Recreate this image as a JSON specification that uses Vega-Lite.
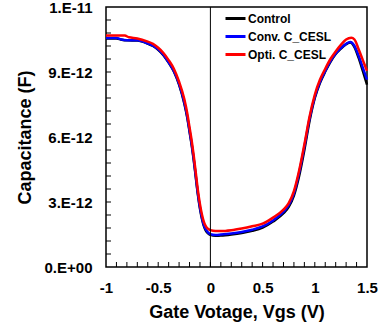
{
  "$schema": "https://vega.github.io/schema/vega-lite/v6.json",
  "autosize": "none",
  "width": 261,
  "height": 260,
  "padding": {"left": 106, "top": 7, "right": 19, "bottom": 69},
  "background": "white",
  "config": {
    "view": {"stroke": "black", "strokeWidth": 1.5},
    "font": "Liberation Sans",
    "axis": {
      "domain": false,
      "grid": false,
      "ticks": false,
      "labelFont": "Liberation Sans",
      "labelFontWeight": "bold",
      "labelFontSize": 15,
      "labelColor": "black",
      "titleFont": "Liberation Sans",
      "titleFontWeight": "bold",
      "titleFontSize": 18,
      "titleColor": "black"
    }
  },
  "datasets": {
    "curves": [
      {"series": "Control", "v": -1.0, "c": 10.55},
      {"series": "Control", "v": -0.9, "c": 10.55},
      {"series": "Control", "v": -0.85, "c": 10.49},
      {"series": "Control", "v": -0.8, "c": 10.46},
      {"series": "Control", "v": -0.7, "c": 10.45},
      {"series": "Control", "v": -0.6, "c": 10.31},
      {"series": "Control", "v": -0.55, "c": 10.2},
      {"series": "Control", "v": -0.5, "c": 10.03},
      {"series": "Control", "v": -0.45, "c": 9.78},
      {"series": "Control", "v": -0.4, "c": 9.43},
      {"series": "Control", "v": -0.35, "c": 9.02},
      {"series": "Control", "v": -0.3, "c": 8.42},
      {"series": "Control", "v": -0.25, "c": 7.55},
      {"series": "Control", "v": -0.22, "c": 6.85},
      {"series": "Control", "v": -0.2, "c": 6.25},
      {"series": "Control", "v": -0.18, "c": 5.65},
      {"series": "Control", "v": -0.16, "c": 4.95},
      {"series": "Control", "v": -0.14, "c": 4.15},
      {"series": "Control", "v": -0.12, "c": 3.35},
      {"series": "Control", "v": -0.1, "c": 2.7},
      {"series": "Control", "v": -0.08, "c": 2.2},
      {"series": "Control", "v": -0.06, "c": 1.85},
      {"series": "Control", "v": -0.04, "c": 1.65},
      {"series": "Control", "v": -0.02, "c": 1.54},
      {"series": "Control", "v": 0.0, "c": 1.48},
      {"series": "Control", "v": 0.05, "c": 1.44},
      {"series": "Control", "v": 0.1, "c": 1.45},
      {"series": "Control", "v": 0.2, "c": 1.5},
      {"series": "Control", "v": 0.3, "c": 1.57},
      {"series": "Control", "v": 0.4, "c": 1.67},
      {"series": "Control", "v": 0.5, "c": 1.82},
      {"series": "Control", "v": 0.6, "c": 2.1},
      {"series": "Control", "v": 0.7, "c": 2.48},
      {"series": "Control", "v": 0.75, "c": 2.78},
      {"series": "Control", "v": 0.8, "c": 3.3},
      {"series": "Control", "v": 0.85, "c": 4.2},
      {"series": "Control", "v": 0.9, "c": 5.4},
      {"series": "Control", "v": 0.95, "c": 6.75},
      {"series": "Control", "v": 1.0, "c": 7.8},
      {"series": "Control", "v": 1.05, "c": 8.5},
      {"series": "Control", "v": 1.1, "c": 9.02},
      {"series": "Control", "v": 1.15, "c": 9.47},
      {"series": "Control", "v": 1.2, "c": 9.83},
      {"series": "Control", "v": 1.25, "c": 10.08},
      {"series": "Control", "v": 1.3, "c": 10.28},
      {"series": "Control", "v": 1.34, "c": 10.36},
      {"series": "Control", "v": 1.38, "c": 10.15},
      {"series": "Control", "v": 1.42, "c": 9.65},
      {"series": "Control", "v": 1.46, "c": 9.05},
      {"series": "Control", "v": 1.5, "c": 8.42},
      {"series": "Conv. C_CESL", "v": -1.0, "c": 10.57},
      {"series": "Conv. C_CESL", "v": -0.9, "c": 10.57},
      {"series": "Conv. C_CESL", "v": -0.85, "c": 10.5},
      {"series": "Conv. C_CESL", "v": -0.8, "c": 10.47},
      {"series": "Conv. C_CESL", "v": -0.7, "c": 10.46},
      {"series": "Conv. C_CESL", "v": -0.6, "c": 10.32},
      {"series": "Conv. C_CESL", "v": -0.55, "c": 10.22},
      {"series": "Conv. C_CESL", "v": -0.5, "c": 10.05},
      {"series": "Conv. C_CESL", "v": -0.45, "c": 9.8},
      {"series": "Conv. C_CESL", "v": -0.4, "c": 9.45},
      {"series": "Conv. C_CESL", "v": -0.35, "c": 9.05},
      {"series": "Conv. C_CESL", "v": -0.3, "c": 8.45},
      {"series": "Conv. C_CESL", "v": -0.25, "c": 7.6},
      {"series": "Conv. C_CESL", "v": -0.22, "c": 6.9},
      {"series": "Conv. C_CESL", "v": -0.2, "c": 6.3},
      {"series": "Conv. C_CESL", "v": -0.18, "c": 5.7},
      {"series": "Conv. C_CESL", "v": -0.16, "c": 5.0},
      {"series": "Conv. C_CESL", "v": -0.14, "c": 4.2},
      {"series": "Conv. C_CESL", "v": -0.12, "c": 3.4},
      {"series": "Conv. C_CESL", "v": -0.1, "c": 2.75},
      {"series": "Conv. C_CESL", "v": -0.08, "c": 2.25},
      {"series": "Conv. C_CESL", "v": -0.06, "c": 1.9},
      {"series": "Conv. C_CESL", "v": -0.04, "c": 1.7},
      {"series": "Conv. C_CESL", "v": -0.02, "c": 1.58},
      {"series": "Conv. C_CESL", "v": 0.0, "c": 1.52},
      {"series": "Conv. C_CESL", "v": 0.05, "c": 1.48},
      {"series": "Conv. C_CESL", "v": 0.1, "c": 1.5},
      {"series": "Conv. C_CESL", "v": 0.2, "c": 1.55},
      {"series": "Conv. C_CESL", "v": 0.3, "c": 1.62},
      {"series": "Conv. C_CESL", "v": 0.4, "c": 1.72},
      {"series": "Conv. C_CESL", "v": 0.5, "c": 1.87},
      {"series": "Conv. C_CESL", "v": 0.6, "c": 2.15},
      {"series": "Conv. C_CESL", "v": 0.7, "c": 2.55},
      {"series": "Conv. C_CESL", "v": 0.75, "c": 2.85},
      {"series": "Conv. C_CESL", "v": 0.8, "c": 3.4},
      {"series": "Conv. C_CESL", "v": 0.85, "c": 4.35},
      {"series": "Conv. C_CESL", "v": 0.9, "c": 5.55},
      {"series": "Conv. C_CESL", "v": 0.95, "c": 6.85},
      {"series": "Conv. C_CESL", "v": 1.0, "c": 7.85},
      {"series": "Conv. C_CESL", "v": 1.05, "c": 8.55},
      {"series": "Conv. C_CESL", "v": 1.1, "c": 9.05},
      {"series": "Conv. C_CESL", "v": 1.15, "c": 9.5},
      {"series": "Conv. C_CESL", "v": 1.2, "c": 9.85},
      {"series": "Conv. C_CESL", "v": 1.25, "c": 10.1},
      {"series": "Conv. C_CESL", "v": 1.3, "c": 10.3},
      {"series": "Conv. C_CESL", "v": 1.34, "c": 10.38},
      {"series": "Conv. C_CESL", "v": 1.38, "c": 10.2},
      {"series": "Conv. C_CESL", "v": 1.42, "c": 9.75},
      {"series": "Conv. C_CESL", "v": 1.46, "c": 9.2},
      {"series": "Conv. C_CESL", "v": 1.5, "c": 8.65},
      {"series": "Opti. C_CESL", "v": -1.0, "c": 10.68},
      {"series": "Opti. C_CESL", "v": -0.9, "c": 10.68},
      {"series": "Opti. C_CESL", "v": -0.82, "c": 10.68},
      {"series": "Opti. C_CESL", "v": -0.78, "c": 10.6},
      {"series": "Opti. C_CESL", "v": -0.7, "c": 10.55},
      {"series": "Opti. C_CESL", "v": -0.6, "c": 10.4},
      {"series": "Opti. C_CESL", "v": -0.55, "c": 10.3},
      {"series": "Opti. C_CESL", "v": -0.5, "c": 10.12},
      {"series": "Opti. C_CESL", "v": -0.45, "c": 9.88},
      {"series": "Opti. C_CESL", "v": -0.4, "c": 9.55},
      {"series": "Opti. C_CESL", "v": -0.35, "c": 9.15},
      {"series": "Opti. C_CESL", "v": -0.3, "c": 8.55},
      {"series": "Opti. C_CESL", "v": -0.25, "c": 7.75},
      {"series": "Opti. C_CESL", "v": -0.22, "c": 7.05},
      {"series": "Opti. C_CESL", "v": -0.2, "c": 6.45},
      {"series": "Opti. C_CESL", "v": -0.18, "c": 5.85},
      {"series": "Opti. C_CESL", "v": -0.16, "c": 5.15},
      {"series": "Opti. C_CESL", "v": -0.14, "c": 4.35},
      {"series": "Opti. C_CESL", "v": -0.12, "c": 3.55},
      {"series": "Opti. C_CESL", "v": -0.1, "c": 2.9},
      {"series": "Opti. C_CESL", "v": -0.08, "c": 2.4},
      {"series": "Opti. C_CESL", "v": -0.06, "c": 2.05},
      {"series": "Opti. C_CESL", "v": -0.04, "c": 1.85},
      {"series": "Opti. C_CESL", "v": -0.02, "c": 1.75},
      {"series": "Opti. C_CESL", "v": 0.0, "c": 1.7},
      {"series": "Opti. C_CESL", "v": 0.05, "c": 1.66},
      {"series": "Opti. C_CESL", "v": 0.1, "c": 1.66},
      {"series": "Opti. C_CESL", "v": 0.2, "c": 1.7},
      {"series": "Opti. C_CESL", "v": 0.3, "c": 1.78},
      {"series": "Opti. C_CESL", "v": 0.4, "c": 1.88},
      {"series": "Opti. C_CESL", "v": 0.5, "c": 2.0},
      {"series": "Opti. C_CESL", "v": 0.6, "c": 2.28},
      {"series": "Opti. C_CESL", "v": 0.7, "c": 2.65},
      {"series": "Opti. C_CESL", "v": 0.75, "c": 2.95},
      {"series": "Opti. C_CESL", "v": 0.8, "c": 3.5},
      {"series": "Opti. C_CESL", "v": 0.85, "c": 4.45},
      {"series": "Opti. C_CESL", "v": 0.9, "c": 5.65},
      {"series": "Opti. C_CESL", "v": 0.95, "c": 6.95},
      {"series": "Opti. C_CESL", "v": 1.0, "c": 7.95},
      {"series": "Opti. C_CESL", "v": 1.05, "c": 8.65},
      {"series": "Opti. C_CESL", "v": 1.1, "c": 9.15},
      {"series": "Opti. C_CESL", "v": 1.15, "c": 9.6},
      {"series": "Opti. C_CESL", "v": 1.2, "c": 9.95},
      {"series": "Opti. C_CESL", "v": 1.25, "c": 10.25},
      {"series": "Opti. C_CESL", "v": 1.3, "c": 10.5},
      {"series": "Opti. C_CESL", "v": 1.35, "c": 10.58},
      {"series": "Opti. C_CESL", "v": 1.38, "c": 10.5},
      {"series": "Opti. C_CESL", "v": 1.42, "c": 10.05},
      {"series": "Opti. C_CESL", "v": 1.46, "c": 9.55},
      {"series": "Opti. C_CESL", "v": 1.5, "c": 9.05}
    ],
    "xticks": [
      {"v": -0.9}, {"v": -0.8}, {"v": -0.7}, {"v": -0.6}, {"v": -0.5}, {"v": -0.4}, {"v": -0.3}, {"v": -0.2}, {"v": -0.1}, {"v": 0},
      {"v": 0.1}, {"v": 0.2}, {"v": 0.3}, {"v": 0.4}, {"v": 0.5}, {"v": 0.6}, {"v": 0.7}, {"v": 0.8}, {"v": 0.9}, {"v": 1},
      {"v": 1.1}, {"v": 1.2}, {"v": 1.3}, {"v": 1.4}
    ],
    "yticks": [
      {"c": 0.6}, {"c": 1.2}, {"c": 1.8}, {"c": 2.4}, {"c": 3}, {"c": 3.6}, {"c": 4.2}, {"c": 4.8}, {"c": 5.4}, {"c": 6},
      {"c": 6.6}, {"c": 7.2}, {"c": 7.8}, {"c": 8.4}, {"c": 9}, {"c": 9.6}, {"c": 10.2}, {"c": 10.8}, {"c": 11.4}
    ],
    "zero": [{"v": 0}]
  },
  "layer": [
    {
      "data": {"name": "curves"},
      "mark": {"type": "line", "strokeWidth": 2.5, "interpolate": "monotone"},
      "encoding": {
        "x": {
          "field": "v",
          "type": "quantitative",
          "scale": {"domain": [-1, 1.5], "nice": false, "zero": false},
          "axis": {
            "title": "Gate Votage, Vgs (V)",
            "values": [-1, -0.5, 0, 0.5, 1, 1.5],
            "labelExpr": "'' + datum.value",
            "labelOverlap": false,
            "labelFlush": false,
            "labelBound": false,
            "labelPadding": 13,
            "titlePadding": 8
          }
        },
        "y": {
          "field": "c",
          "type": "quantitative",
          "scale": {"domain": [0, 12], "nice": false, "zero": false},
          "axis": {
            "title": "Capacitance (F)",
            "values": [0, 3, 6, 9, 12],
            "labelExpr": "datum.value == 0 ? '0.E+00' : datum.value == 12 ? '1.E-11' : datum.value + '.E-12'",
            "labelOverlap": false,
            "labelFlush": false,
            "labelBound": false,
            "labelPadding": 14,
            "titlePadding": 10
          }
        },
        "color": {
          "field": "series",
          "type": "nominal",
          "scale": {"domain": ["Control", "Conv. C_CESL", "Opti. C_CESL"], "range": ["#000000", "#0000ff", "#ff0000"]},
          "legend": {
            "title": null,
            "orient": "none",
            "legendX": 118,
            "legendY": 0,
            "symbolType": "stroke",
            "symbolSize": 400,
            "symbolStrokeWidth": 3,
            "labelFont": "Liberation Sans",
            "labelFontWeight": "bold",
            "labelFontSize": 12,
            "labelColor": "black",
            "labelOffset": 1,
            "rowPadding": -4,
            "padding": 0
          }
        }
      }
    },
    {
      "data": {"name": "xticks"},
      "mark": {"type": "tick", "orient": "vertical", "color": "black", "size": 5, "thickness": 1, "yOffset": -2.5, "opacity": 1},
      "encoding": {
        "x": {"field": "v", "type": "quantitative"},
        "y": {"datum": 0, "type": "quantitative"}
      }
    },
    {
      "data": {"name": "yticks"},
      "mark": {"type": "tick", "orient": "horizontal", "color": "black", "size": 5, "thickness": 1, "xOffset": 2.5, "opacity": 1},
      "encoding": {
        "y": {"field": "c", "type": "quantitative"},
        "x": {"datum": -1, "type": "quantitative"}
      }
    },
    {
      "data": {"name": "zero"},
      "mark": {"type": "rule", "color": "black", "strokeWidth": 1},
      "encoding": {"x": {"field": "v", "type": "quantitative"}}
    }
  ]
}
